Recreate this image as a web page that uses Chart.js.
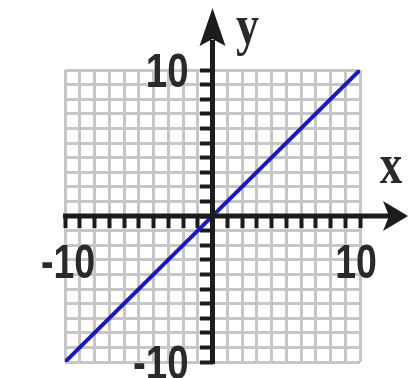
<!DOCTYPE html>
<html>
<head>
<meta charset="utf-8">
<script src="https://cdn.jsdelivr.net/npm/chart.js@4/dist/chart.umd.min.js"></script>
<style>
  html, body { margin: 0; padding: 0; background: #fff; }
  #wrap { width: 409px; height: 378px; }
</style>
</head>
<body>
<div id="wrap"><canvas id="lineChart"></canvas></div>
<script>
  // data
  const xValues = [-10, 10];
  const yValues = [-10, 10];
  const axisMin = -10;
  const axisMax = 10;
  const shownTicks = [-10, 10];

  document.addEventListener('DOMContentLoaded', function() {

    // text squeezed sideways, like the reference glyphs
    function squeezed(c, text, x, y, align, sx) {
      c.save();
      c.translate(x, y);
      c.scale(sx, 1);
      c.textAlign = align;
      c.fillText(text, 0, 0);
      c.restore();
    }

    // axes with arrows, tick numbers and x / y names
    const axesPlugin = {
      id: 'axesArrows',
      afterDraw(chart) {
        const c = chart.ctx;
        const xs = chart.scales.x, ys = chart.scales.y;
        const ox = xs.getPixelForValue(0);
        const oy = ys.getPixelForValue(0);
        const w = chart.width;
        c.save();
        c.strokeStyle = '#1c1c1c';
        c.fillStyle = '#1c1c1c';
        c.lineWidth = 5;
        // x axis
        c.beginPath();
        c.moveTo(xs.getPixelForValue(axisMin) - 2, oy);
        c.lineTo(w - 18, oy);
        c.stroke();
        c.beginPath();
        c.moveTo(w - 1, oy);
        c.lineTo(w - 26, oy - 15);
        c.lineTo(w - 20, oy);
        c.lineTo(w - 26, oy + 15);
        c.closePath();
        c.fill();
        // y axis
        c.beginPath();
        c.moveTo(ox, ys.getPixelForValue(axisMin) + 2);
        c.lineTo(ox, 40);
        c.stroke();
        c.beginPath();
        c.moveTo(ox, 8);
        c.lineTo(ox - 13, 46);
        c.lineTo(ox, 39);
        c.lineTo(ox + 13, 46);
        c.closePath();
        c.fill();

        // tick numbers
        c.fillStyle = '#2a2a2a';
        c.font = 'bold 48px "Liberation Sans", Arial, sans-serif';
        c.textBaseline = 'alphabetic';
        shownTicks.forEach(v => {
          squeezed(c, String(v), xs.getPixelForValue(v) + (v < 0 ? 3 : -4), oy + 62, 'center', 0.78);
          squeezed(c, String(v), ox - 24, ys.getPixelForValue(v) + 17, 'right', 0.8);
        });

        // names
        c.fillStyle = '#2a2a2a';
        c.font = 'bold 56px "Liberation Serif", "Times New Roman", serif';
        squeezed(c, 'x', w - 18, oy - 33, 'center', 0.8);
        squeezed(c, 'y', ox + 35, 44, 'center', 0.82);
        c.restore();
      }
    };

    const ctx1 = document.getElementById('lineChart');
    const lineChart = new Chart(ctx1, {
      type: 'scatter',
      data: {
        datasets: [{
          label: 'y = x',
          data: xValues.map((x, i) => ({ x: x, y: yValues[i] })),
          showLine: true,
          borderColor: '#1818c4',
          borderWidth: 4,
          pointRadius: 0,
          fill: false
        }]
      },
      options: {
        responsive: true,
        maintainAspectRatio: false,
        animation: false,
        layout: {
          padding: { left: 65, right: 49, top: 70, bottom: 16 }
        },
        plugins: {
          legend: { display: false },
          tooltip: { enabled: false }
        },
        scales: {
          x: {
            type: 'linear',
            position: { y: 0 },
            min: axisMin,
            max: axisMax,
            z: 1,
            border: { display: false },
            grid: {
              color: '#c6c6c6',
              lineWidth: 3,
              tickColor: '#1c1c1c',
              tickWidth: 4,
              tickLength: 12
            },
            ticks: {
              stepSize: 1,
              autoSkip: false,
              maxRotation: 0,
              callback: () => ''
            }
          },
          y: {
            type: 'linear',
            position: { x: 0 },
            min: axisMin,
            max: axisMax,
            border: { display: false },
            grid: {
              color: '#c6c6c6',
              lineWidth: 3,
              tickColor: '#1c1c1c',
              tickWidth: 4,
              tickLength: 13
            },
            ticks: {
              stepSize: 1,
              autoSkip: false,
              callback: () => ''
            }
          }
        }
      },
      plugins: [axesPlugin]
    });
  });
</script>
</body>
</html>
